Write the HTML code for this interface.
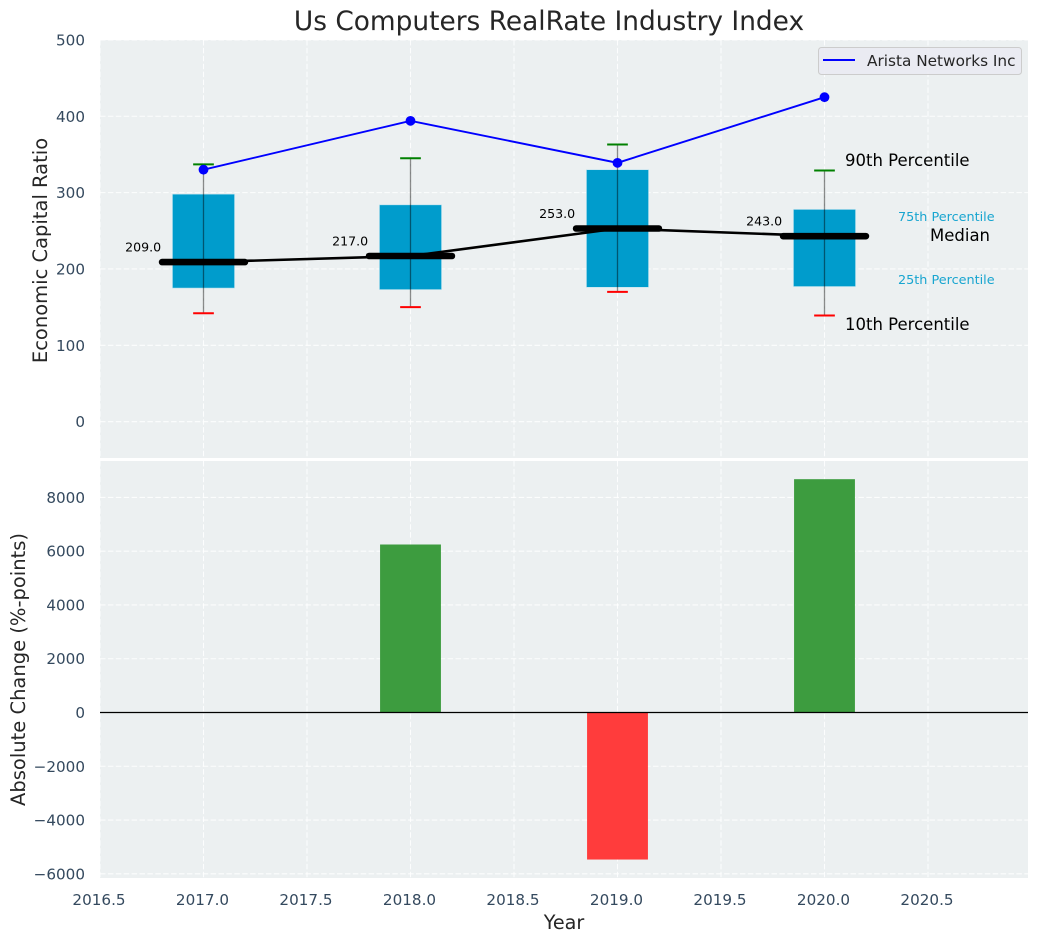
<!DOCTYPE html>
<html>
<head>
<meta charset="utf-8">
<title>Us Computers RealRate Industry Index</title>
<style>
html,body{margin:0;padding:0;background:#fff;}
svg{display:block;font-family:"DejaVu Sans","Liberation Sans",sans-serif;}
</style>
</head>
<body>
<svg id="chart" xmlns="http://www.w3.org/2000/svg" width="1039" height="942" viewBox="0 0 1039 942">
<rect x="0" y="0" width="1039" height="942" fill="#ffffff"/>
<rect x="100" y="40" width="928" height="418" fill="#ecf0f1"/>
<rect x="100" y="461" width="928" height="417" fill="#ecf0f1"/>
<g id="grid"></g>
<g id="marks"></g>
<g id="ticks"></g>
<text x="549" y="30" font-size="26.4" fill="#262626" text-anchor="middle">Us Computers RealRate Industry Index</text>
<text x="564" y="929" font-size="19.2" fill="#262626" text-anchor="middle">Year</text>
<text x="0" y="0" transform="translate(47,250.5) rotate(-90)" font-size="19.5" fill="#262626" text-anchor="middle">Economic Capital Ratio</text>
<text x="0" y="0" transform="translate(25,669.5) rotate(-90)" font-size="19.5" fill="#262626" text-anchor="middle">Absolute Change (%-points)</text>
<text x="845" y="166" font-size="16.5" fill="#000000">90th Percentile</text>
<text x="898" y="221" font-size="12.8" fill="#009ccc" fill-opacity="0.9">75th Percentile</text>
<text x="930" y="241" font-size="16.5" fill="#000000">Median</text>
<text x="898" y="284" font-size="12.8" fill="#009ccc" fill-opacity="0.9">25th Percentile</text>
<text x="845" y="330" font-size="16.5" fill="#000000">10th Percentile</text>
<g>
<rect x="818.5" y="47.5" width="203" height="27" rx="3" fill="#eaeaf2" fill-opacity="0.9" stroke="#cccccc" stroke-width="1"/>
<line x1="823" y1="60" x2="855" y2="60" stroke="#0000ff" stroke-width="2"/>
<text x="867" y="66" font-size="15.3" fill="#262626">Arista Networks Inc</text>
</g>
</svg>
<script>
const years = [2017, 2018, 2019, 2020];
const p90 = [337, 345, 363, 329];
const p75 = [298, 284, 330, 278];
const medians = [209, 217, 253, 243];
const p25 = [175, 173, 176, 177];
const p10 = [142, 150, 170, 139];
const companyValues = [330, 394, 339, 425];
const changeYears = [2018, 2019, 2020];
const changeValues = [6250, -5470, 8680];
const xTicks = [2016.5, 2017, 2017.5, 2018, 2018.5, 2019, 2019.5, 2020, 2020.5];
const topYTicks = [0, 100, 200, 300, 400, 500];
const bottomYTicks = [-6000, -4000, -2000, 0, 2000, 4000, 6000, 8000];

const NS = 'http://www.w3.org/2000/svg';
function xScale(v) { return 100 + (v - 2016.5) * 207; }
function xSpan(v) { return v * 207; }
function topY(v) { return 421.7 - v * 0.7636; }
function bottomY(v) { return 712.5 - v * 0.02688; }
function make(parent, tag, attrs, txt) {
  const n = document.createElementNS(NS, tag);
  Object.keys(attrs).forEach(function (k) { n.setAttribute(k, attrs[k]); });
  if (txt !== undefined) n.textContent = txt;
  parent.appendChild(n);
  return n;
}
const grid = document.getElementById('grid');
const marks = document.getElementById('marks');
const ticks = document.getElementById('ticks');
const gridStyle = { stroke: '#ffffff', 'stroke-width': 1.1, 'stroke-dasharray': '5.5 2.4', 'stroke-opacity': 0.85 };

xTicks.forEach(function (t) {
  const x = xScale(t);
  [[40, 458], [461, 878]].forEach(function (r) {
    const g = make(grid, 'line', Object.assign({ x1: x, x2: x, y1: r[0], y2: r[1] }, gridStyle));
    
    
  });
  const l = make(ticks, 'text', { x: x - 1, y: 905, 'font-size': 15.2, fill: '#34495e', 'text-anchor': 'middle' }, t.toFixed(1));
  
  
});
topYTicks.forEach(function (t) {
  const y = topY(t);
  const g = make(grid, 'line', Object.assign({ x1: 100, x2: 1028, y1: y, y2: y }, gridStyle));
  
  
  const l = make(ticks, 'text', { x: 85, y: y + 5.5, 'font-size': 15.2, fill: '#34495e', 'text-anchor': 'end' }, String(t));
  
  
});
bottomYTicks.forEach(function (t) {
  const y = bottomY(t);
  const g = make(grid, 'line', Object.assign({ x1: 100, x2: 1028, y1: y, y2: y }, gridStyle));
  
  
  const l = make(ticks, 'text', { x: 85, y: y + 5.5, 'font-size': 15.2, fill: '#34495e', 'text-anchor': 'end' }, String(t).replace('-', '\u2212'));
  
  
});

/* Percentile boxes */
years.forEach(function (yr, i) {
  const b = make(marks, 'rect', {
    x: xScale(yr) - xSpan(0.15), y: topY(p75[i]),
    width: xSpan(0.3), height: topY(p25[i]) - topY(p75[i]),
    fill: '#009ccc', stroke: '#bfe3ef', 'stroke-width': 0.6
  });
  
  
});

/* Median connector */
const medianLine = make(marks, 'polyline', {
  points: years.map(function (yr, i) { return xScale(yr) + ',' + topY(medians[i]); }).join(' '),
  fill: 'none', stroke: '#000000', 'stroke-width': 2.6
});



years.forEach(function (yr, i) {
  const x = xScale(yr);
  const w = make(marks, 'line', { x1: x, x2: x, y1: topY(p90[i]), y2: topY(p10[i]), stroke: '#000000', 'stroke-opacity': 0.45, 'stroke-width': 1.3 });
  
  

  const capHigh = make(marks, 'line', { x1: x - xSpan(0.05), x2: x + xSpan(0.05), y1: topY(p90[i]), y2: topY(p90[i]), stroke: '#008000', 'stroke-width': 2 });
  
  

  const capLow = make(marks, 'line', { x1: x - xSpan(0.05), x2: x + xSpan(0.05), y1: topY(p10[i]), y2: topY(p10[i]), stroke: '#ff0000', 'stroke-width': 2 });
  
  

  const med = make(marks, 'line', { x1: x - xSpan(0.2), x2: x + xSpan(0.2), y1: topY(medians[i]), y2: topY(medians[i]), stroke: '#000000', 'stroke-width': 6.6, 'stroke-linecap': 'round' });
  
  

  const val = make(marks, 'text', { x: x - xSpan(0.2) - 37, y: topY(medians[i]) - 10.5, 'font-size': 12.6, fill: '#000000' }, medians[i].toFixed(1));
  
  
});

/* Company line */
const companyLine = make(marks, 'polyline', {
  points: years.map(function (yr, i) { return xScale(yr) + ',' + topY(companyValues[i]); }).join(' '),
  fill: 'none', stroke: '#0000ff', 'stroke-width': 1.9
});


years.forEach(function (yr, i) {
  const p = make(marks, 'circle', { cx: xScale(yr), cy: topY(companyValues[i]), r: 4.9, fill: '#0000ff' });
  
  
});

/* Change bars */
changeYears.forEach(function (yr, i) {
  const v = changeValues[i];
  const top = bottomY(Math.max(v, 0));
  const bot = bottomY(Math.min(v, 0));
  const bar = make(marks, 'rect', {
    x: xScale(yr) - xSpan(0.147), y: top, width: xSpan(0.294), height: bot - top,
    fill: v >= 0 ? '#3d9c3f' : '#ff3c3c'
  });
  
  
});
const zero = make(marks, 'line', { x1: 100, x2: 1028, y1: bottomY(0), y2: bottomY(0), stroke: '#000000', 'stroke-width': 1.2 });


</script>
</body>
</html>
